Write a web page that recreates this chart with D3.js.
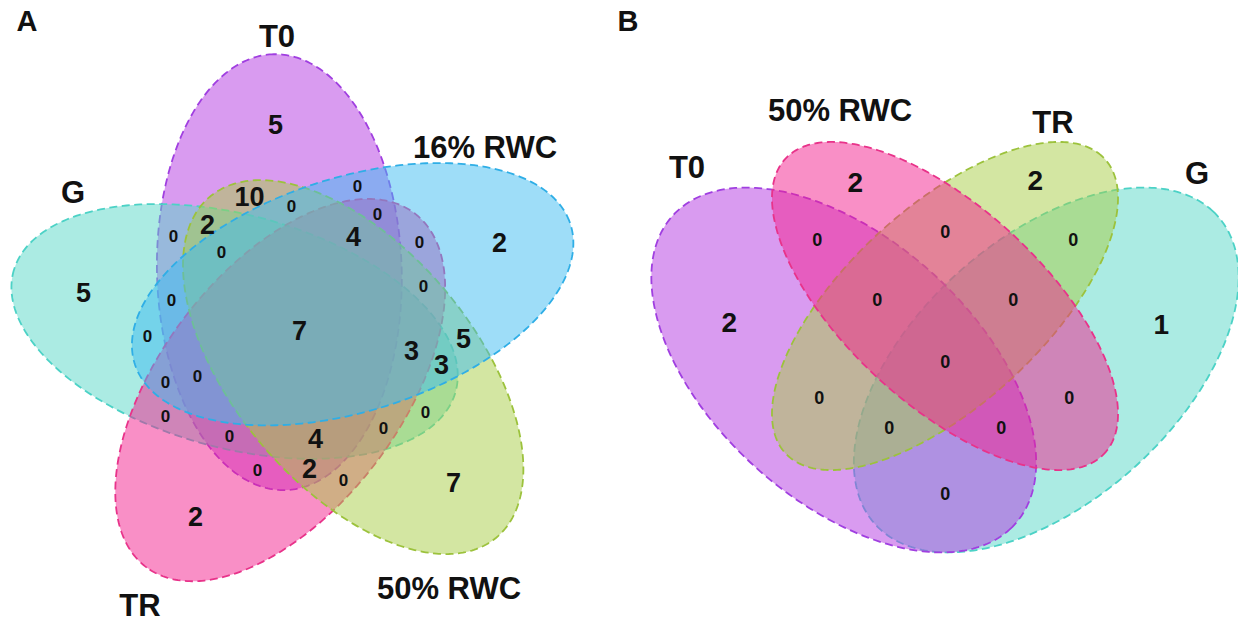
<!DOCTYPE html>
<html>
<head>
<meta charset="utf-8">
<script src="https://cdn.jsdelivr.net/npm/d3@7"></script>
<style>
  body { margin: 0; background: #fff; }
  svg { display: block; }
  text { font-family: "Liberation Sans", Arial, sans-serif; font-weight: bold; fill: #111; }
</style>
</head>
<body>
<svg id="chart" width="1238" height="622"></svg>
<script>
// ---------- Panel A: five sets ----------
const setsA = ["T0", "16% RWC", "50% RWC", "TR", "G"];
const fillsA = ["#B437E2", "#3DBBF1", "#A8CD46", "#F31F8D", "#57D7C7"];
const strokesA = ["#A03FE0", "#2FAEE6", "#9CC23C", "#E8338A", "#4CD2C6"];
// regions are keyed by the indices of the sets they belong to
const regionKeysA = ["0", "1", "2", "3", "4",
  "01", "12", "23", "34", "04",
  "02", "13", "24", "03", "14",
  "012", "123", "234", "034", "014",
  "013", "124", "023", "134", "024",
  "1234", "0234", "0134", "0124", "0123",
  "01234"];
const countsA = [5, 2, 7, 2, 5,
  0, 5, 0, 0, 0,
  10, 0, 0, 0, 0,
  0, 0, 0, 0, 0,
  0, 3, 2, 0, 2,
  3, 4, 0, 0, 4,
  7];
const drawOrderA = [0, 4, 3, 2, 1];

// ---------- Panel B: four sets ----------
const setsB = ["T0", "50% RWC", "TR", "G"];
const fillsB = ["#B437E2", "#F31F8D", "#A8CD46", "#57D7C7"];
const strokesB = ["#A03FE0", "#E8338A", "#9CC23C", "#4CD2C6"];
const regionKeysB = ["0", "1", "2", "3",
  "01", "12", "23", "02", "13", "03",
  "012", "123", "023", "013",
  "0123"];
const countsB = [2, 2, 2, 1,
  0, 0, 0, 0, 0, 0,
  0, 0, 0, 0,
  0];
const drawOrderB = [3, 0, 2, 1];

const svg = d3.select("#chart");
const rad = d => d * Math.PI / 180;

// Panel A geometry: congruent ellipses set every 72 degrees round the centre
const geoA = d3.range(5).map(i => {
  const a = rad(108.4 - 72 * i);
  return { cx: 0.2844 * Math.cos(a), cy: 0.2844 * Math.sin(a), rx: 1, ry: 0.532, rot: a - rad(17) };
});
const xA = d3.scaleLinear().domain([-1, 1]).range([300 - 230, 300 + 230]);
const yA = d3.scaleLinear().domain([-1, 1]).range([331 + 218, 331 - 218]);

// Panel B geometry: two outer and two crossing inner ellipses
const geoB = [
  { cx: 0.35, cy: 0.47, rx: 0.35, ry: 0.20, rot: rad(-45) },
  { cx: 0.50, cy: 0.57, rx: 0.33, ry: 0.15, rot: rad(-45) },
  { cx: 0.50, cy: 0.57, rx: 0.33, ry: 0.15, rot: rad(45) },
  { cx: 0.65, cy: 0.47, rx: 0.35, ry: 0.20, rot: rad(45) }
];
const xB = d3.scaleLinear().domain([0, 1]).range([945 - 337.5, 945 + 337.5]);
const yB = d3.scaleLinear().domain([0, 1]).range([306 + 0.57 * 640, 306 - 0.43 * 640]);

function ellipsePoints(e, xs, ys, n) {
  const c = Math.cos(e.rot), s = Math.sin(e.rot);
  return d3.range(n).map(k => {
    const t = 2 * Math.PI * k / n;
    const u = e.rx * Math.cos(t), v = e.ry * Math.sin(t);
    return [xs(e.cx + u * c - v * s), ys(e.cy + u * s + v * c)];
  });
}

function insideTest(e, xs, ys) {
  const c = Math.cos(e.rot), s = Math.sin(e.rot);
  return (px, py) => {
    const dx = xs.invert(px) - e.cx, dy = ys.invert(py) - e.cy;
    const u = dx * c + dy * s, v = -dx * s + dy * c;
    return (u / e.rx) ** 2 + (v / e.ry) ** 2 <= 1;
  };
}

// For every region: among the points well clear of all outlines,
// take the one nearest the region's centroid (outer lobes stay near their widest point)
function labelSpots(geo, xs, ys) {
  const outlines = geo.map(e => ellipsePoints(e, xs, ys, 200));
  const tests = geo.map(e => insideTest(e, xs, ys));
  const all = outlines.flat();
  const x0 = d3.min(all, p => p[0]), x1 = d3.max(all, p => p[0]);
  const y0 = d3.min(all, p => p[1]), y1 = d3.max(all, p => p[1]);
  const samples = {};
  for (let py = y0; py <= y1; py += 2) {
    for (let px = x0; px <= x1; px += 2) {
      let key = "";
      for (let i = 0; i < tests.length; i++) if (tests[i](px, py)) key += i;
      if (!key) continue;
      let d2 = Infinity;
      for (const p of all) {
        const dx = p[0] - px, dy = p[1] - py;
        const q = dx * dx + dy * dy;
        if (q < d2) d2 = q;
      }
      (samples[key] = samples[key] || []).push([px, py, Math.sqrt(d2)]);
    }
  }
  const spots = {};
  for (const key in samples) {
    const s = samples[key];
    const maxD = d3.max(s, p => p[2]);
    const mx = d3.mean(s, p => p[0]), my = d3.mean(s, p => p[1]);
    const keep = key.length === 1 ? 0.9 : 0.6;
    const good = s.filter(p => p[2] >= keep * maxD);
    const pick = d3.least(good, p => (p[0] - mx) ** 2 + (p[1] - my) ** 2);
    spots[key] = { x: pick[0], y: pick[1] };
  }
  return spots;
}

const line = d3.line().curve(d3.curveLinearClosed);

function drawPanel(g, geo, xs, ys, fills, strokes, order, keys, counts, bigSize, smallSize) {
  const shapes = g.append("g");
  order.forEach(i => {
    shapes.append("path")
      .attr("d", line(ellipsePoints(geo[i], xs, ys, 360)))
      .attr("fill", fills[i])
      .attr("fill-opacity", 0.5)
      .attr("stroke", strokes[i])
      .attr("stroke-width", 1.8)
      .attr("stroke-dasharray", "8,4.5");
  });
  const spots = labelSpots(geo, xs, ys);
  g.append("g").selectAll("text")
    .data(keys.map((k, i) => ({ key: k, value: counts[i] })))
    .join("text")
    .attr("x", d => spots[d.key].x)
    .attr("y", d => spots[d.key].y)
    .attr("dy", "0.35em")
    .attr("text-anchor", "middle")
    .style("font-size", d => (d.value === 0 ? smallSize : bigSize) + "px")
    .text(d => d.value);
}

function drawSetNames(g, names, spots) {
  g.append("g").selectAll("text")
    .data(names.map((n, i) => ({ name: n, pos: spots[i] })))
    .join("text")
    .attr("x", d => d.pos[0])
    .attr("y", d => d.pos[1])
    .attr("dy", "0.35em")
    .attr("text-anchor", "middle")
    .style("font-size", "31px")
    .text(d => d.name);
}

const gA = svg.append("g");
drawPanel(gA, geoA, xA, yA, fillsA, strokesA, drawOrderA, regionKeysA, countsA, 27, 17);
drawSetNames(gA, setsA, [[277, 36], [485, 147], [449, 588], [140, 605], [73, 192]]);

const gB = svg.append("g");
drawPanel(gB, geoB, xB, yB, fillsB, strokesB, drawOrderB, regionKeysB, countsB, 28, 18);
drawSetNames(gB, setsB, [[687, 167], [840, 110], [1053, 122], [1197, 173]]);

// panel letters
svg.selectAll("text.panel")
  .data([["A", 27], ["B", 628]])
  .join("text")
  .attr("class", "panel")
  .attr("x", d => d[1])
  .attr("y", 21)
  .attr("dy", "0.35em")
  .attr("text-anchor", "middle")
  .style("font-size", "29px")
  .text(d => d[0]);
</script>
</body>
</html>
